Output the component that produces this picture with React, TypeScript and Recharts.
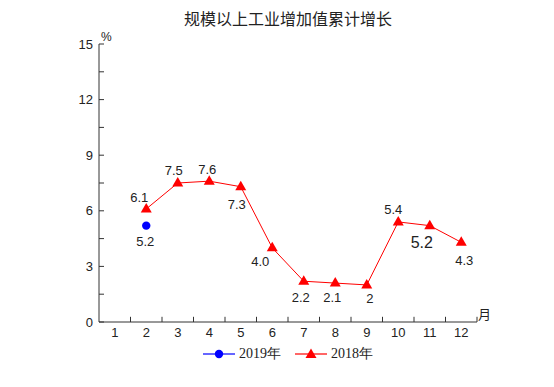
import React from 'react'
import {
  LineChart,
  Line,
  XAxis,
  YAxis,
  ReferenceLine,
  LabelList
} from 'recharts'

const months = [1, 2, 3, 4, 5, 6, 7, 8, 9, 10, 11, 12]
const growth2018: (number | null)[] = [null, 6.1, 7.5, 7.6, 7.3, 4.0, 2.2, 2.1, 2.0, 5.4, 5.2, 4.3]
const growth2019: (number | null)[] = [null, 5.2, null, null, null, null, null, null, null, null, null, null]
const yTicks = [0, 1.5, 3, 4.5, 6, 7.5, 9, 10.5, 12, 13.5, 15]
const xBounds = [1.5, 2.5, 3.5, 4.5, 5.5, 6.5, 7.5, 8.5, 9.5, 10.5, 11.5, 12.5]

// label placement per month index (dx, dy, fontSize)
const label2018: Record<number, [number, number, number]> = {
  1: [-7, -11, 13],
  2: [-4, -13, 13],
  3: [-2, -12, 13],
  4: [-4, 18, 13],
  5: [-12, 14, 13],
  6: [-3, 16, 13],
  7: [-3, 14, 13],
  8: [3, 14, 13],
  9: [-5, -12, 13],
  10: [-8, 17, 16],
  11: [3, 18, 13]
}

const data = months.map((m, i) => ({
  month: m,
  y2018: growth2018[i],
  y2019: growth2019[i]
}))

const tickFont = { fontFamily: 'Liberation Sans, Arial, sans-serif', fontSize: 13, fill: '#222' }

const Triangle = (props: any) => {
  const { cx, cy, value } = props
  if (value == null || cx == null) return null
  return (
    <polygon
      points={`${cx},${cy - 6} ${cx - 5.5},${cy + 3.5} ${cx + 5.5},${cy + 3.5}`}
      fill="#ff0000"
    />
  )
}

const BlueDot = (props: any) => {
  const { cx, cy, value } = props
  if (value == null || cx == null) return null
  return <circle cx={cx} cy={cy} r={4.2} fill="#0000ff" />
}

const renderLabel2018 = (props: any) => {
  const { x, y, value, index } = props
  if (value == null) return null
  const [dx, dy, fs] = label2018[index] || [0, -12, 13]
  return (
    <text
      x={x + dx}
      y={y + dy}
      textAnchor="middle"
      dominantBaseline="central"
      style={{ ...tickFont, fontSize: fs }}
    >
      {value === 2 ? '2' : value.toFixed(1)}
    </text>
  )
}

const renderLabel2019 = (props: any) => {
  const { x, y, value } = props
  if (value == null) return null
  return (
    <text x={x - 1} y={y + 16} textAnchor="middle" dominantBaseline="central" style={tickFont}>
      {value.toFixed(1)}
    </text>
  )
}

const LegendBox = () => (
  <div
    style={{
      position: 'absolute',
      left: 0,
      top: 345,
      width: 576,
      display: 'flex',
      justifyContent: 'center',
      alignItems: 'center',
      fontFamily: 'Liberation Serif, Times New Roman, serif',
      fontSize: 14,
      color: '#222'
    }}
  >
    <svg width={32} height={12}>
      <line x1={0} y1={6} x2={32} y2={6} stroke="#6666ff" strokeWidth={2} />
      <circle cx={16} cy={6} r={4.2} fill="#0000ff" />
    </svg>
    <span style={{ marginLeft: 4, marginRight: 14 }}>2019年</span>
    <svg width={32} height={12}>
      <line x1={0} y1={6} x2={32} y2={6} stroke="#ff6666" strokeWidth={2} />
      <polygon points="16,0.5 10.5,10 21.5,10" fill="#ff0000" />
    </svg>
    <span style={{ marginLeft: 4 }}>2018年</span>
  </div>
)

export default function App() {
  return (
    <div style={{ position: 'absolute', left: 0, top: 0, width: 554, height: 387, background: '#fff' }}>
      <div
        style={{
          position: 'absolute',
          left: 0,
          width: 576,
          top: 6,
          textAlign: 'center',
          fontFamily: 'Noto Sans CJK SC, sans-serif',
          fontSize: 16,
          color: '#222'
        }}
      >
        规模以上工业增加值累计增长
      </div>
      <div style={{ position: 'absolute', left: 101, top: 30, ...tickFont, fontSize: 12, color: '#222' }}>%</div>
      <div
        style={{
          position: 'absolute',
          left: 478,
          top: 304,
          fontFamily: 'Noto Sans CJK SC, sans-serif',
          fontSize: 13,
          color: '#222'
        }}
      >
        月
      </div>
      <LineChart width={554} height={387} data={data} margin={{ top: 44, right: 77, bottom: 45, left: 59 }}>
        <XAxis
          dataKey="month"
          type="number"
          domain={[0.5, 12.5]}
          ticks={months}
          tickLine={false}
          tickSize={0}
          tickMargin={6}
          axisLine={{ stroke: '#333' }}
          tick={tickFont}
          height={20}
          allowDataOverflow
        />
        <YAxis
          type="number"
          domain={[0, 15]}
          ticks={yTicks}
          width={40}
          tickSize={-5}
          tickMargin={11}
          tickLine={{ stroke: '#333' }}
          axisLine={{ stroke: '#333' }}
          tick={tickFont}
          tickFormatter={(v: number) => (v % 3 === 0 ? String(v) : '')}
          interval={0}
        />
        {xBounds.map((b) => (
          <ReferenceLine
            key={b}
            segment={[{ x: b, y: 0 }, { x: b, y: 0.28 }]}
            stroke="#333"
            ifOverflow="visible"
          />
        ))}
        <Line
          dataKey="y2018"
          stroke="#ff0000"
          strokeWidth={1}
          dot={<Triangle />}
          activeDot={false}
          isAnimationActive={false}
          connectNulls={false}
        >
          <LabelList dataKey="y2018" content={renderLabel2018} />
        </Line>
        <Line
          dataKey="y2019"
          stroke="#0000ff"
          strokeWidth={1}
          dot={<BlueDot />}
          activeDot={false}
          isAnimationActive={false}
        >
          <LabelList dataKey="y2019" content={renderLabel2019} />
        </Line>
      </LineChart>
      <LegendBox />
    </div>
  )
}
